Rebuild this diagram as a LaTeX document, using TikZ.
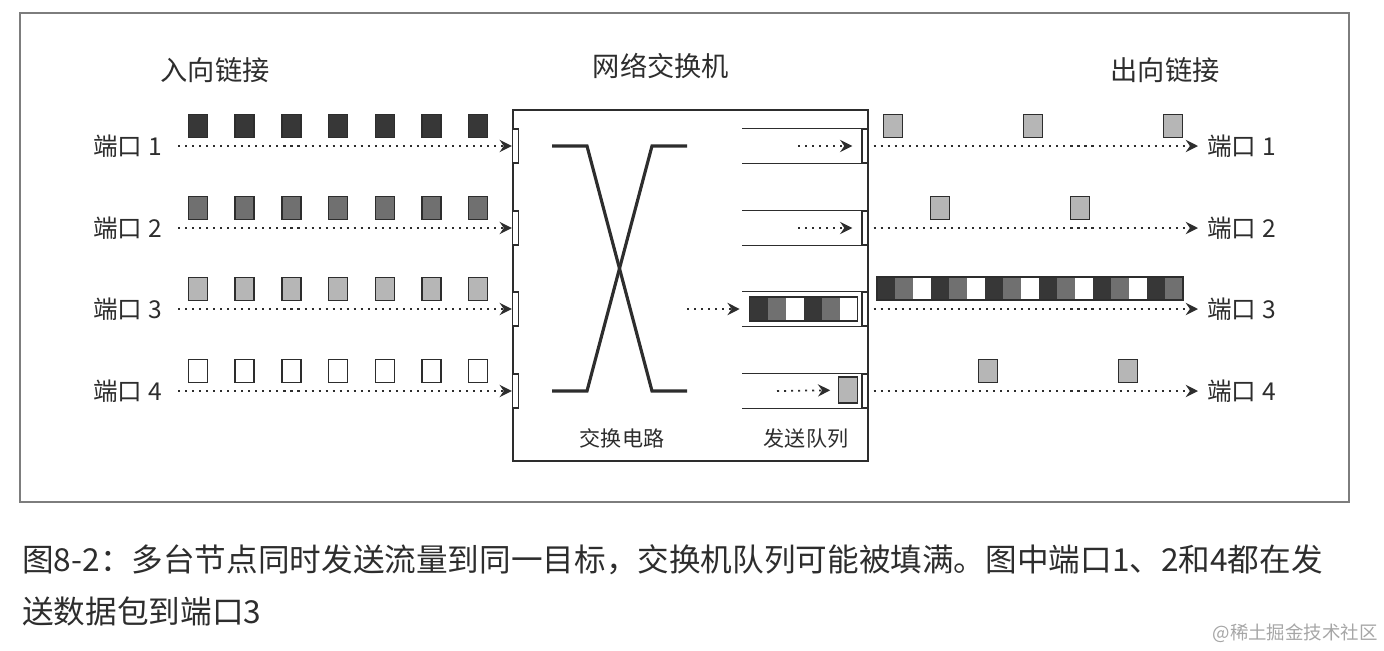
\documentclass[tikz,border=0pt]{standalone}
\usepackage{fontspec}
\setmainfont{Noto Sans CJK SC}
\usepackage{xcolor}
\usetikzlibrary{positioning,arrows.meta,calc}
\definecolor{ink}{RGB}{45,45,45}
\definecolor{rim}{RGB}{125,125,125}
\definecolor{pkdark}{RGB}{55,55,55}
\definecolor{pkmid}{RGB}{112,112,112}
\definecolor{pklight}{RGB}{182,182,182}
\tikzset{
  pkt/.style={draw=ink,line width=0.9pt,minimum width=0.38cm,minimum height=0.46cm,inner sep=0pt},
  port/.style={draw=ink,line width=0.7pt,fill=white,minimum width=0.12cm,minimum height=0.68cm,inner sep=0pt},
  flow/.style={draw=ink,line width=1pt,dash pattern=on 1.2pt off 2.8pt,-{Stealth[length=7pt,width=7pt,inset=2.4pt]}},
  lbl/.style={font=\fontsize{14}{16}\selectfont,text=ink},
  hdr/.style={font=\fontsize{15.5}{18}\selectfont,text=ink},
  sub/.style={font=\fontsize{12}{14}\selectfont,text=ink},
}

\begin{document}
\begin{tikzpicture}[x=0.02cm,y=-0.02cm]
  \useasboundingbox (0,0) rectangle (1384,650);
  \draw[rim,line width=0.8pt] (20,13) rectangle (1349,502);
  % headings
  \node[hdr] (inlink) at (215,70) {入向链接};
  \node[hdr] (sw) at (661,66) {网络交换机};
  \node[hdr] (outlink) at (1165,70) {出向链接};
  % switch box and crossbar
  \draw[ink,line width=1pt] (513,110) rectangle (868,461);
  \draw[ink,line width=1.8pt] (552,146) -- (587,146) -- (652,391) -- (687,391);
  \draw[ink,line width=1.8pt] (552,391) -- (587,391) -- (652,146) -- (687,146);
  \node[sub] (xbar) at (622,438) {交换电路};
  \node[sub] (txq) at (806,438) {发送队列};
  % rows: ports, labels, incoming packets
  \foreach \i/\y/\c in {1/146/pkdark,2/228/pkmid,3/309/pklight,4/391/white} {
    \draw[ink,line width=1pt] (742,\y-17.5) -- (868,\y-17.5) (742,\y+17.5) -- (868,\y+17.5);
    \node[port] (in\i) at (515.5,\y) {};
    \node[port] (out\i) at (865,\y) {};
    \node[lbl,anchor=east,inner xsep=0.32cm] (li\i) at (178,\y) {端口 \i};
    \node[lbl,anchor=west,inner xsep=0.18cm] (ro\i) at (1198,\y) {端口 \i};
    \foreach \k in {0,...,6}
      \node[pkt,fill=\c] (p\i\k) at (198+46.7*\k,\y-20) {};
    \draw[flow] (li\i) -- (in\i);
    \draw[flow,shorten <=0.1cm] (out\i) -- (ro\i);
  }
  % outgoing packets
  \foreach \x [count=\k] in {893,1033,1173} \node[pkt,fill=pklight] (oa\k) at (\x,126) {};
  \foreach \x [count=\k] in {940,1080} \node[pkt,fill=pklight] (ob\k) at (\x,208) {};
  \foreach \x [count=\k] in {988,1128} \node[pkt,fill=pklight] (od\k) at (\x,371) {};
  \foreach \k in {0,...,16} {
    \pgfmathsetmacro\m{int(mod(\k,3))}
    \ifcase\m \def\c{pkdark}\or \def\c{pkmid}\or \def\c{white}\fi
    \fill[\c] (877+18*\k,277) rectangle ++(18,23);
  }
  \draw[ink,line width=0.9pt] (877,277) rectangle (1183,300);
  % queue contents
  \foreach \k in {0,...,5} {
    \pgfmathsetmacro\m{int(mod(\k,3))}
    \ifcase\m \def\c{pkdark}\or \def\c{pkmid}\or \def\c{white}\fi
    \fill[\c] (750+18*\k,297) rectangle ++(18,24);
  }
  \node[draw=ink,line width=0.9pt,minimum width=2.16cm,minimum height=0.48cm,inner sep=0pt] (qbuf) at (803.5,309) {};
  \node[pkt,fill=pklight,minimum height=0.52cm] (qpk) at (848,390) {};
  \coordinate (qs1) at (798,146);
  \coordinate (qs2) at (798,228);
  \coordinate (qs3) at (687,309);
  \coordinate (qs4) at (777,391);
  \draw[flow,shorten >=0.18cm] (qs1) -- (out1);
  \draw[flow,shorten >=0.18cm] (qs2) -- (out2);
  \draw[flow,shorten >=0.18cm] (qs3) -- (qbuf);
  \draw[flow,shorten >=0.15cm] (qs4) -- (qpk);
  % caption
  \node[anchor=west,font=\fontsize{18}{22}\selectfont,text=ink,inner sep=0pt] (cap1) at (22,560) {图8-2：多台节点同时发送流量到同一目标，交换机队列可能被填满。图中端口1、2和4都在发};
  \node[anchor=west,font=\fontsize{18}{22}\selectfont,text=ink,inner sep=0pt] (cap2) at (22,611) {送数据包到端口3};
  \node[anchor=east,font=\fontsize{10.5}{12}\selectfont,text=black!35,inner sep=0pt] (wm) at (1378,633) {@稀土掘金技术社区};
\end{tikzpicture}
\end{document}
